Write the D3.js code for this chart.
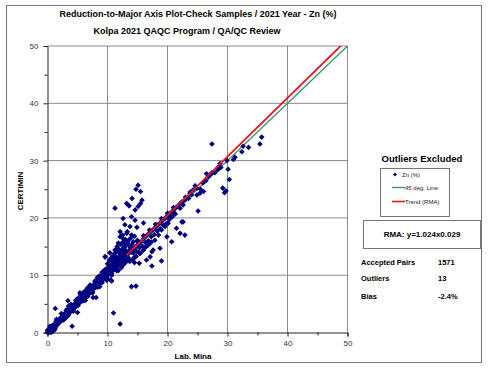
<!DOCTYPE html>
<html><head><meta charset="utf-8">
<script src="https://cdn.jsdelivr.net/npm/d3@7/dist/d3.min.js"></script>
<style>body{margin:0;background:#fff}svg{display:block}text{font-family:"Liberation Sans",Arial,sans-serif}</style>
</head><body><svg id="c" width="489" height="370"></svg>
<script>
// ---- data (Lab. Mina, CERTIMIN) ----
const titleText = "Reduction-to-Major Axis Plot-Check Samples / 2021 Year - Zn (%)";
const subtitleText = "Kolpa 2021 QAQC Program / QA/QC Review";
const xTicks = [0,10,20,30,40,50];
const yTicks = [0,10,20,30,40,50];
const minorTicks = [5,15,25,35,45];
const originBlob = [[0,0],[0.1,0.2],[0.2,0],[0.3,0.3],[0.4,0.1],[0.5,0.5],[0.6,0.2],[0.7,0.6],[0.8,0.4],[0.9,0.9],[1.0,0.6],[0.2,0.5],[0.5,0.9],[1.1,1.0],[0.3,0.7],[0.6,0],[1.2,0.5],[0,0.4],[0.9,0.2],[1.4,1.1],[0.4,1.1],[1.0,1.3],[1.3,0.8],[0.8,1.2]];
const bandPoints = [[1.2,1.0],[1.3,1.5],[1.4,1.9],[1.6,1.3],[1.7,1.8],[1.8,2.2],[2.0,1.7],[2.1,2.2],[2.2,2.6],[2.4,2.1],[2.5,2.6],[2.6,3.0],[2.8,2.5],[2.9,3.0],[3.0,3.5],[3.2,2.9],[3.3,3.4],[3.4,3.9],[3.6,3.3],[3.7,3.8],[3.8,4.3],[4.0,3.8],[4.1,4.2],[4.2,4.7],[4.4,4.2],[4.5,4.6],[4.6,5.1],[4.8,4.6],[4.9,5.0],[5.0,5.5],[5.2,5.0],[5.3,5.4],[5.4,5.9],[5.6,5.4],[5.7,5.9],[5.8,6.4],[6.0,5.8],[6.1,6.3],[6.2,6.8],[6.4,6.2],[6.5,6.7],[6.6,7.2],[6.8,6.6],[6.9,7.1],[7.0,7.6],[7.2,7.0],[7.3,7.5],[7.4,8.0],[7.6,7.5],[7.7,8.0],[7.8,8.5],[8.0,7.9],[8.1,8.4],[8.2,8.9],[8.4,8.3],[8.5,8.8],[8.6,9.3],[8.8,8.7],[8.9,9.3],[9.0,9.8],[9.2,9.1],[9.3,9.7],[9.4,10.3],[9.6,9.5],[9.7,10.2],[9.8,10.8],[10.0,9.9],[10.1,10.6],[10.2,11.3],[10.4,10.3],[10.5,11.0],[10.6,11.7],[10.8,10.7],[10.9,11.5],[11.0,12.2],[11.2,11.1],[11.3,11.9],[11.4,12.7],[11.6,11.5],[11.7,12.3],[11.8,13.1],[12.0,11.9],[12.1,12.8],[12.2,13.6],[12.4,12.3],[12.5,13.2],[12.6,14.0],[12.8,12.6],[12.9,13.5],[13.0,14.4],
[2.3,3.3],[3.5,4.6],[4.3,3.7],[5.5,6.6],[6.3,5.6],[6.7,7.8],[7.5,6.9],[8.3,9.6],[8.7,8.0],[9.5,10.9],[9.9,9.1],[10.3,12.0],[10.7,10.0],[11.1,12.9],[11.5,10.8],[7.1,8.3],[5.9,6.9],[4.7,5.6],[3.9,4.9],[3.1,2.6],
[11.8,10.8],[12.3,11.3],[12.6,11.8],[13.0,12.2],[13.3,12.6],[13.5,13.0],
[1.5,1.6],[1.9,2.0],[2.3,2.4],[2.7,2.8],[3.1,3.3],[3.5,3.7],[3.9,4.1],[4.3,4.5],[4.7,4.9],[5.1,5.4],[5.5,5.8],[5.9,6.2],[6.3,6.6],[6.7,7.0],[7.1,7.4],[7.5,7.8],[7.9,8.3],[8.3,8.7],[8.7,9.1],[9.1,9.5],[9.5,10.0],[9.9,10.4],[10.3,10.8],[10.7,11.3],[11.1,11.7],[11.5,12.1],[11.9,12.5],[12.3,12.9],[12.7,13.3],
[2.7,2.2],[3.5,3.0],[4.3,3.9],[5.1,4.7],[5.9,5.5],[6.7,6.3],[7.5,7.1],[8.3,7.9],[9.1,8.7],[9.9,9.5],[10.7,10.3],[11.5,11.1],[12.3,11.8],
[1.5,2.3],[3.1,3.9],[5.1,6.0],[5.9,6.8],[6.3,7.3],[7.1,8.1],[7.9,9.0],[8.7,9.9],[9.1,10.5],[9.9,11.2],[10.7,12.2],[11.5,13.1],[12.3,14.1]];
const clusterPoints = [[10.0,12.0],[10.3,12.6],[10.6,13.0],[10.9,13.4],[11.2,13.8],[11.5,14.2],[11.8,14.6],[11.0,12.8],[11.4,13.2],[11.9,13.9],[12.3,14.4],[12.7,14.9],[13.1,15.2],[12.2,15.4],[12.6,15.8],[13.0,16.2],[13.4,15.6],[13.8,14.8],[14.1,15.4],[13.6,14.2],[14.0,14.0],[14.4,14.6],[13.2,13.8],[12.8,13.2],[9.6,13.2],[10.4,13.9],[11.6,15.0],[12.1,16.7],[12.5,17.0],[13.3,17.6],[14.5,16.8],[13.9,16.5],[15.0,16.1],
[15.1,25.7],[15.5,24.6],[14.75,25.0],[14.1,23.4],[15.75,23.1],[15.5,22.5],[13.2,22.5],[13.6,22.1],[15.1,22.0],[11.25,21.7],[14.6,21.4],[14.0,20.2],[12.6,19.9],[14.6,19.6],[16.0,19.1],[12.9,18.8],[13.75,18.5],[14.9,18.35],[12.1,17.6],[13.2,17.3],[14.0,17.0],[12.6,16.4],[13.5,16.1],[14.3,15.85],[11.8,15.6],[12.9,15.3],[13.75,15.0],[11.25,14.4],
[15.3,12.1],[16.5,12.65],[17.4,11.6],[19.0,12.5],[17.4,14.1],[14.2,12.8],[14.8,13.3],[15.4,13.8],[15.9,14.3],[16.3,14.9],[14.6,13.2],[15.2,14.0],[16.8,15.3],[17.3,15.8],[13.7,12.4],[14.5,12.2]];
const linePoints = [[13.5,13.8],[14.0,14.3],[14.5,14.8],[15.0,15.3],[15.5,15.8],[16.0,16.4],[16.5,16.9],[17.0,17.4],[17.5,17.9],[18.0,18.4],[18.5,18.9],[19.0,19.4],[19.5,19.9],[20.0,20.4],[20.5,20.9],[21.0,21.4],[21.5,21.9],[22.0,22.4],
[14.3,13.9],[15.3,14.8],[16.3,15.7],[17.3,16.7],[18.3,17.7],[19.3,18.7],[20.3,19.7],[21.3,20.7],[16.8,16.0],[17.8,17.1],[18.8,18.1],[19.8,19.0],[20.8,20.2],[15.8,15.1],[14.8,14.2],
[14.0,14.9],[15.0,15.9],[16.0,16.9],[17.0,17.9],[18.0,18.9],[19.0,19.9],[20.0,20.8],[21.0,21.8],
[22.4,22.5],[21.8,22.0],[21.0,20.8],[20.4,20.2],[22.4,19.3],[20.1,19.05],[19.6,18.5],[21.5,18.2],[19.0,17.9],[22.1,17.3],[22.9,17.0],[18.5,17.0],[19.9,16.7],[17.9,16.1],[20.7,15.85],[17.1,15.6],[16.5,15.0],[16.0,14.4],[17.6,14.4],[15.4,13.8],[14.6,13.2],[17.1,13.2],[18.75,14.7]];
const upperPoints = [[27.4,32.9],[35.7,34.1],[35.4,32.9],[33.5,32.3],[32.6,32.5],[32.4,31.55],[31.25,30.6],[31.0,30.2],[29.9,30.0],[30.1,28.5],[30.3,26.7],[28.75,29.5],[28.9,28.8],[28.4,28.4],[27.9,27.9],[27.4,27.9],[26.5,27.7],[26.4,26.5],[25.9,26.1],[29.2,25.2],[29.75,24.75],[29.5,24.4],[24.6,25.6],[25.5,25.0],[26.0,24.6],[25.4,24.3],[24.9,24.0],[24.0,24.0],[23.5,23.4],[22.9,23.1],[22.4,22.8],[22.6,22.25],[22.1,21.7],[25.1,21.2],[22.6,19.3],[28.5,28.9],[24.9,25.2],[23.0,23.6],[23.8,24.5],[24.3,24.9],[26.8,27.2],[27.2,27.6],[23.75,24.3]];
const lowPoints = [[1.3,4.2],[4.1,1.1],[11.0,3.4],[12.1,1.5],[14.0,8.0],[14.75,8.1],[10.7,9.0],[3.4,5.55],[5.0,3.5],[8.1,6.1],[5.4,6.95],[7.6,6.1],[9.9,9.2],[10.5,9.2],[9.6,13.2]];
const rmaSlope = 1.024, rmaIntercept = -0.029, trendStart = 13.2, trendEnd = 50;
const legendItems = ["Zn (%)","45 deg. Line","Trend (RMA)"];
const statLabels = ["Accepted Pairs","Outliers","Bias"];
const statValues = ["1571","13","-2.4%"];

const allPoints = [].concat(originBlob, bandPoints, clusterPoints, linePoints, upperPoints, lowPoints);

const svg = d3.select("#c");
const x = d3.scaleLinear().domain([0,50]).range([47.5,347.5]);
const y = d3.scaleLinear().domain([0,50]).range([332.5,46]);
const navy = "#000080";
const green = "#3a9a6a", red = "#e8141c";

// frame
svg.append("rect").attr("x",6.5).attr("y",5.5).attr("width",475).attr("height",357)
  .attr("fill","#fff").attr("stroke","#777").attr("stroke-width",1);

// grid
svg.append("g").selectAll("line").data(xTicks.slice(1)).join("line")
  .attr("x1",d=>x(d)).attr("x2",d=>x(d)).attr("y1",y(0)).attr("y2",y(50))
  .attr("stroke","#8a8a8a").attr("stroke-width",1);
svg.append("g").selectAll("line").data(yTicks.slice(1)).join("line")
  .attr("y1",d=>y(d)).attr("y2",d=>y(d)).attr("x1",x(0)).attr("x2",x(50))
  .attr("stroke","#8a8a8a").attr("stroke-width",1);

// axes
svg.append("g").attr("transform",`translate(0,${y(0)})`)
  .call(d3.axisBottom(x).tickValues(xTicks).tickSize(4).tickPadding(4).tickFormat(d3.format("d")));
svg.append("g").attr("transform",`translate(0,${y(0)})`)
  .call(d3.axisBottom(x).tickValues(minorTicks).tickSize(3).tickFormat("")).select(".domain").remove();
svg.append("g").attr("transform",`translate(${x(0)},0)`)
  .call(d3.axisLeft(y).tickValues(yTicks).tickSize(4).tickPadding(5).tickFormat(d3.format("d")));
svg.append("g").attr("transform",`translate(${x(0)},0)`)
  .call(d3.axisLeft(y).tickValues(minorTicks).tickSize(3).tickFormat("")).select(".domain").remove();
svg.selectAll(".tick text").attr("font-size",8).attr("fill","#333").attr("font-family","Liberation Sans, Arial");
svg.selectAll(".domain,.tick line").attr("stroke","#222");

// 45 deg line (under points)
svg.append("line").attr("x1",x(0)).attr("y1",y(0)).attr("x2",x(50)).attr("y2",y(50))
  .attr("stroke",green).attr("stroke-width",1.4);

// points
svg.append("g").selectAll("path").data(allPoints).join("path")
  .attr("d","M0,-2.8L2.8,0L0,2.8L-2.8,0Z")
  .attr("transform",d=>`translate(${x(d[0])},${y(d[1])})`)
  .attr("fill",navy);

// trend line (over points)
svg.append("clipPath").attr("id","lc").append("rect")
  .attr("x",x(0)).attr("y",y(50)).attr("width",x(50)-x(0)).attr("height",y(0)-y(50));
svg.append("line").attr("clip-path","url(#lc)")
  .attr("x1",x(trendStart)).attr("y1",y(rmaSlope*trendStart+rmaIntercept))
  .attr("x2",x(trendEnd)).attr("y2",y(rmaSlope*trendEnd+rmaIntercept))
  .attr("stroke",red).attr("stroke-width",1.8);

// titles
svg.append("text").attr("x",198).attr("y",17).attr("text-anchor","middle")
  .attr("font-size",9).attr("font-weight","bold").text(titleText);
svg.append("text").attr("x",187).attr("y",34).attr("text-anchor","middle")
  .attr("font-size",9).attr("font-weight","bold").text(subtitleText);
svg.append("text").attr("x",193).attr("y",359).attr("text-anchor","middle")
  .attr("font-size",8).attr("font-weight","bold").text("Lab. Mina");
svg.append("text").attr("transform","translate(23,191) rotate(-90)").attr("text-anchor","middle")
  .attr("font-size",8).attr("font-weight","bold").text("CERTIMIN");

// legend
svg.append("text").attr("x",422).attr("y",162).attr("text-anchor","middle")
  .attr("font-size",9.5).attr("font-weight","bold").text("Outliers Excluded");
svg.append("rect").attr("x",380.5).attr("y",168.5).attr("width",69).attr("height",48)
  .attr("fill","#fff").attr("stroke","#777");
const ly = [174.5,187.5,201.5];
svg.append("path").attr("d","M0,-2L2,0L0,2L-2,0Z").attr("transform",`translate(395,${ly[0]})`).attr("fill",navy);
svg.append("line").attr("x1",392).attr("x2",405).attr("y1",ly[1]).attr("y2",ly[1]).attr("stroke",green).attr("stroke-width",1.4);
svg.append("line").attr("x1",392).attr("x2",405).attr("y1",ly[2]).attr("y2",ly[2]).attr("stroke",red).attr("stroke-width",1.6);
svg.append("g").selectAll("text").data(legendItems).join("text")
  .attr("x",(d,i)=>i===0?402:405).attr("y",(d,i)=>ly[i]+2).attr("font-size",6).attr("fill","#222").text(d=>d);

// RMA box
svg.append("rect").attr("x",363.5).attr("y",220.5).attr("width",117).attr("height",28)
  .attr("fill","#fff").attr("stroke","#777");
svg.append("text").attr("x",422).attr("y",237).attr("text-anchor","middle")
  .attr("font-size",8).attr("font-weight","bold").text(`RMA: y=${rmaSlope.toFixed(3)}x${Math.abs(rmaIntercept).toFixed(3)}`);

// stats
const sy = [265,281,299];
svg.append("g").selectAll("text").data(statLabels).join("text")
  .attr("x",361).attr("y",(d,i)=>sy[i]).attr("font-size",7.5).attr("font-weight","bold").text(d=>d);
svg.append("g").selectAll("text").data(statValues).join("text")
  .attr("x",438).attr("y",(d,i)=>sy[i]).attr("font-size",7.5).attr("font-weight","bold").text(d=>d);
</script></body></html>
